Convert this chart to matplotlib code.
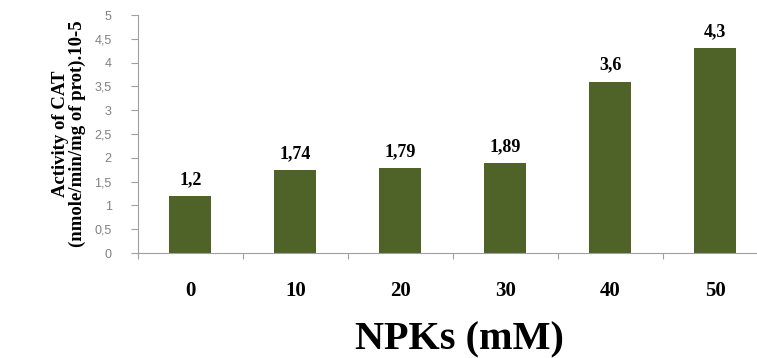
import numpy as np
import matplotlib.pyplot as plt

# NPK concentrations and CAT activity
doses = ['0', '10', '20', '30', '40', '50']
cat_activity = [1.2, 1.74, 1.79, 1.89, 3.6, 4.3]
value_labels = ['1,2', '1,74', '1,79', '1,89', '3,6', '4,3']
y_ticks = [0, 0.5, 1, 1.5, 2, 2.5, 3, 3.5, 4, 4.5, 5]
y_tick_labels = ['0', '0,5', '1', '1,5', '2', '2,5', '3', '3,5', '4', '4,5', '5']

serif = 'Liberation Serif'
bar_color = '#4F6228'

fig = plt.figure(figsize=(7.57, 3.58), dpi=100)
ax = fig.add_axes([0.1823, 0.293, 0.832, 0.665])

x = np.arange(len(doses))
ax.bar(x, cat_activity, width=0.4, color=bar_color)

for xi, v, lab in zip(x, cat_activity, value_labels):
    ax.text(xi, v + 0.17, lab, ha='center', va='bottom',
            fontsize=13, fontweight='bold', family=serif)

ax.set_xlim(-0.5, len(doses) - 0.5)
ax.set_ylim(0, 5)

ax.set_yticks(y_ticks)
ax.set_yticklabels(y_tick_labels, fontsize=9, color='#808080', family='Liberation Sans')
ax.tick_params(axis='y', length=5, color='#a0a0a0', pad=14)

# category ticks sit between the bars, labels at bar centres
ax.set_xticks(np.arange(len(doses) + 1) - 0.5)
ax.set_xticklabels([''] * (len(doses) + 1))
ax.set_xticks(x, minor=True)
ax.set_xticklabels(doses, minor=True, fontsize=15, fontweight='bold', family=serif)
ax.tick_params(axis='x', which='major', length=4, color='#a0a0a0')
ax.tick_params(axis='x', which='minor', length=0, pad=20)

for side in ['top', 'right']:
    ax.spines[side].set_visible(False)
for side in ['left', 'bottom']:
    ax.spines[side].set_color('#a0a0a0')

ax.set_ylabel('Activity of CAT\n(nmole/min/mg of prot).10-5', fontsize=13.5,
              fontweight='bold', family=serif, labelpad=6, linespacing=0.95)
fig.text(0.607, 0.05, 'NPKs (mM)', ha='center', va='center',
         fontsize=29, fontweight='bold', family=serif)

fig.savefig('out.png', dpi=100)
